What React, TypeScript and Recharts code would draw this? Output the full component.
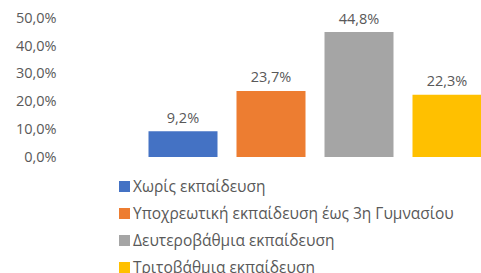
import { BarChart, Bar, XAxis, YAxis, Legend, LabelList } from 'recharts'

const categories = [
    'Χωρίς εκπαίδευση',
    'Υποχρεωτική εκπαίδευση έως 3η Γυμνασίου',
    'Δευτεροβάθμια εκπαίδευση',
    'Τριτοβάθμια εκπαίδευση',
]
const values = [9.2, 23.7, 44.8, 22.3]
const colors = ['#4472C4', '#ED7D31', '#A5A5A5', '#FFC000']
const yTicks = [0, 10, 20, 30, 40, 50]

const FONT = '"Open Sans", sans-serif'
const TEXT = '#595959'

const data = [
    Object.fromEntries([['name', ''], ...categories.map((c, i) => ['s' + i, values[i]])]),
]

function pct(v: number) {
    return `${Number(v).toFixed(1).replace('.', ',')}%`
}

// legend in the same order as the bars, one item per line
function LegendBox() {
    return (
        <ul style={{ margin: 0, padding: 0, listStyle: 'none', fontFamily: FONT }}>
            {categories.map((c, i) => (
                <li
                    key={c}
                    style={{ display: 'flex', alignItems: 'center', height: 27, fontSize: 15.5, color: TEXT, whiteSpace: 'nowrap' }}
                >
                    <span style={{ width: 11, height: 11, background: colors[i], marginRight: 3, display: 'inline-block' }} />
                    {c}
                </li>
            ))}
        </ul>
    )
}

export default function App() {
    return (
        <div style={{ position: 'absolute', left: 0, top: 0, width: 481, height: 273, overflow: 'hidden', background: '#fff' }}>
            <BarChart
                width={500}
                height={273}
                data={data}
                margin={{ top: 17.5, right: 9.5, left: 0, bottom: 8 }}
                barGap={19}
                barCategoryGap={0}
            >
                <XAxis dataKey="name" hide />
                <YAxis
                    width={138.5}
                    domain={[0, 50]}
                    ticks={yTicks}
                    tickFormatter={pct}
                    axisLine={false}
                    tickLine={false}
                    tickSize={0}
                    tickMargin={82}
                    tick={{ fill: TEXT, fontSize: 14.5, fontFamily: FONT }}
                />
                <Legend
                    verticalAlign="bottom"
                    content={<LegendBox />}
                    wrapperStyle={{ left: 119, top: 172.5, bottom: 'auto', width: 370 }}
                />
                {categories.map((c, i) => (
                    <Bar key={c} dataKey={'s' + i} name={c} fill={colors[i]} barSize={69} isAnimationActive={false}>
                        <LabelList
                            dataKey={'s' + i}
                            position="top"
                            offset={8.5}
                            formatter={(v: any) => pct(v)}
                            style={{ fill: TEXT, fontSize: 14.5, fontFamily: FONT }}
                        />
                    </Bar>
                ))}
            </BarChart>
        </div>
    )
}
